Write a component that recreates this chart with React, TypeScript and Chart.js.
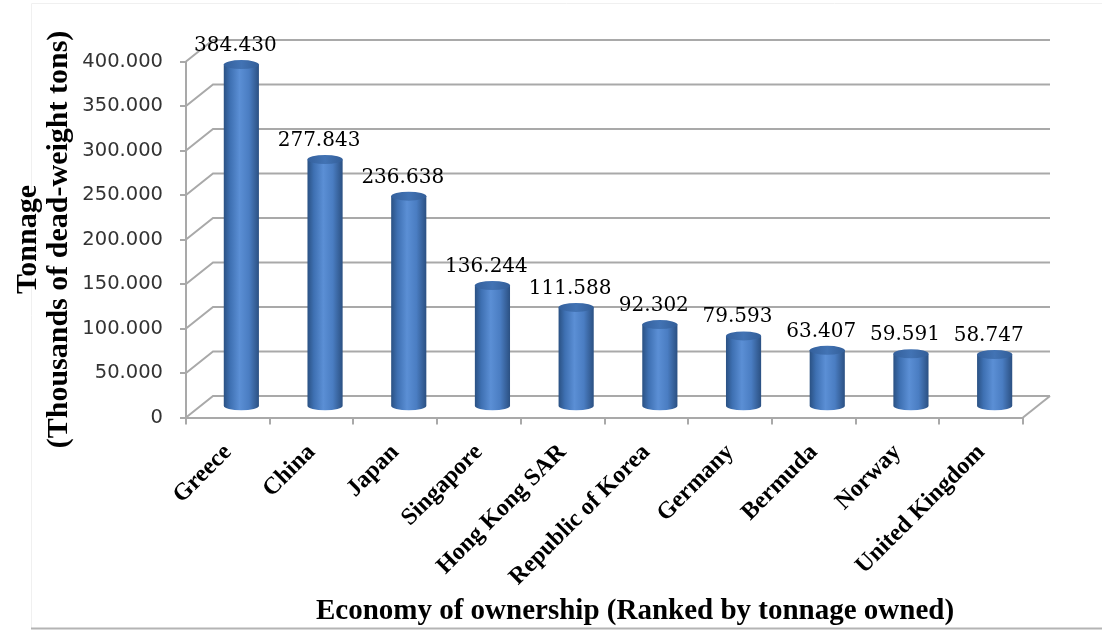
import React, { useEffect, useRef } from "react";
import { Chart, registerables } from "chart.js";

Chart.register(...registerables);

const categories = [
  "Greece",
  "China",
  "Japan",
  "Singapore",
  "Hong Kong SAR",
  "Republic of Korea",
  "Germany",
  "Bermuda",
  "Norway",
  "United Kingdom",
];
const tonnage = [384.43, 277.843, 236.638, 136.244, 111.588, 92.302, 79.593, 63.407, 59.591, 58.747];
const yMin = 0;
const yMax = 400;
const yStep = 50;
const yTitle = ["Tonnage", "(Thousands of dead-weight tons)"];
const xTitle = "Economy of ownership (Ranked by tonnage owned)";

const DX = 27;
const DY = -21.5;
const GRID = "#a9a9a9";

const framePlugin = {
  id: "frame",
  beforeDraw(chart: any) {
    const { ctx } = chart;
    ctx.save();
    ctx.strokeStyle = "#f0f0f0";
    ctx.lineWidth = 1;
    ctx.beginPath();
    ctx.moveTo(31.5, 628);
    ctx.lineTo(31.5, 3.5);
    ctx.lineTo(1102, 3.5);
    ctx.stroke();
    ctx.strokeStyle = "#b4b4b4";
    ctx.lineWidth = 2;
    ctx.beginPath();
    ctx.moveTo(31, 628.5);
    ctx.lineTo(1102, 628.5);
    ctx.stroke();
    ctx.restore();
  },
};

const wallPlugin = {
  id: "wall3d",
  beforeDatasetsDraw(chart: any) {
    const { ctx, chartArea } = chart;
    const y = chart.scales.y;
    ctx.save();
    ctx.strokeStyle = GRID;
    ctx.lineWidth = 2;
    y.ticks.forEach((t: any) => {
      const py = y.getPixelForValue(t.value);
      ctx.beginPath();
      ctx.moveTo(chartArea.left, py);
      ctx.lineTo(chartArea.left + DX, py + DY);
      ctx.lineTo(chartArea.right + DX, py + DY);
      ctx.stroke();
    });
    const y0 = y.getPixelForValue(0);
    ctx.beginPath();
    ctx.moveTo(chartArea.right, y0);
    ctx.lineTo(chartArea.right + DX, y0 + DY);
    ctx.stroke();
    ctx.restore();
  },
};

const cylinderPlugin = {
  id: "cylinders",
  afterDatasetsDraw(chart: any) {
    const { ctx } = chart;
    const meta = chart.getDatasetMeta(0);
    ctx.save();
    meta.data.forEach((bar: any, i: number) => {
      const { x, y, base, width } = bar.getProps(["x", "y", "base", "width"], true);
      const cx = x + DX / 2;
      const yt = y + DY / 2;
      const yb = base + DY / 2;
      const rx = width / 2;
      const ry = 4.5;
      const g = ctx.createLinearGradient(cx - rx, 0, cx + rx, 0);
      g.addColorStop(0, "#2a5183");
      g.addColorStop(0.18, "#3e70b2");
      g.addColorStop(0.45, "#5b8fd5");
      g.addColorStop(0.72, "#4a7dc2");
      g.addColorStop(1, "#2b5082");
      ctx.fillStyle = g;
      ctx.beginPath();
      ctx.moveTo(cx - rx, yt);
      ctx.lineTo(cx - rx, yb);
      ctx.ellipse(cx, yb, rx, ry, 0, Math.PI, 0, true);
      ctx.lineTo(cx + rx, yt);
      ctx.closePath();
      ctx.fill();
      const gt = ctx.createLinearGradient(cx - rx, 0, cx + rx, 0);
      gt.addColorStop(0, "#34609c");
      gt.addColorStop(0.5, "#4273b4");
      gt.addColorStop(1, "#335e98");
      ctx.fillStyle = gt;
      ctx.beginPath();
      ctx.ellipse(cx, yt, rx, ry, 0, 0, Math.PI * 2);
      ctx.fill();
      ctx.fillStyle = "#000";
      ctx.font = '20px "DejaVu Serif"';
      ctx.textAlign = "center";
      ctx.textBaseline = "alphabetic";
      ctx.fillText(tonnage[i].toFixed(3), cx - 6, yt - ry - 9);
    });
    ctx.restore();
  },
  afterDraw(chart: any) {
    const { ctx } = chart;
    ctx.save();
    ctx.fillStyle = "#000";
    ctx.font = 'bold 29px "Liberation Serif"';
    ctx.textAlign = "center";
    ctx.textBaseline = "middle";
    ctx.fillText(xTitle, 635, 612);
    ctx.restore();
  },
};

export default function App() {
  const ref = useRef<HTMLCanvasElement | null>(null);
  useEffect(() => {
    if (!ref.current) return;
    const chart = new Chart(ref.current, {
      type: "bar",
      data: {
        labels: categories,
        datasets: [
          {
            data: tonnage,
            backgroundColor: "rgba(0,0,0,0)",
            borderWidth: 0,
            categoryPercentage: 1,
            barPercentage: 0.42,
          },
        ],
      },
      options: {
        responsive: false,
        animation: false,
        devicePixelRatio: 1,
        layout: { padding: { top: 61.5, right: 79, left: 0, bottom: 0 } },
        plugins: { legend: { display: false }, tooltip: { enabled: false } },
        scales: {
          x: {
            afterFit: (s: any) => {
              s.height = 212.5;
            },
            grid: {
              display: true,
              drawOnChartArea: false,
              drawTicks: true,
              tickLength: 7,
              color: GRID,
              lineWidth: 2,
              offset: true,
            },
            border: { display: true, color: GRID, width: 2 },
            ticks: {
              autoSkip: false,
              minRotation: 45,
              maxRotation: 45,
              padding: 14,
              color: "#000",
              font: { family: '"Liberation Serif"', size: 24, weight: "bold" },
            },
          },
          y: {
            min: yMin,
            max: yMax,
            afterFit: (s: any) => {
              s.width = 186;
            },
            grid: {
              display: true,
              drawOnChartArea: false,
              drawTicks: true,
              tickLength: 6,
              color: GRID,
              lineWidth: 2,
            },
            border: { display: true, color: GRID, width: 2 },
            ticks: {
              stepSize: yStep,
              padding: 17,
              color: "#333",
              font: { family: '"DejaVu Sans"', size: 19.5 },
              callback: (v: any) => (Number(v) === 0 ? "0" : Number(v).toFixed(3)),
            },
            title: {
              display: true,
              text: yTitle,
              color: "#000",
              padding: { top: 13, bottom: 0 },
              font: { family: '"Liberation Serif"', size: 30, weight: "bold", lineHeight: 1.02 },
            },
          },
        },
      },
      plugins: [framePlugin, wallPlugin, cylinderPlugin],
    });
    return () => chart.destroy();
  }, []);
  return (
    <div style={{ position: "fixed", left: 0, top: 0, width: 1102, height: 630, background: "#fff" }}>
      <canvas ref={ref} width={1102} height={630} />
    </div>
  );
}
